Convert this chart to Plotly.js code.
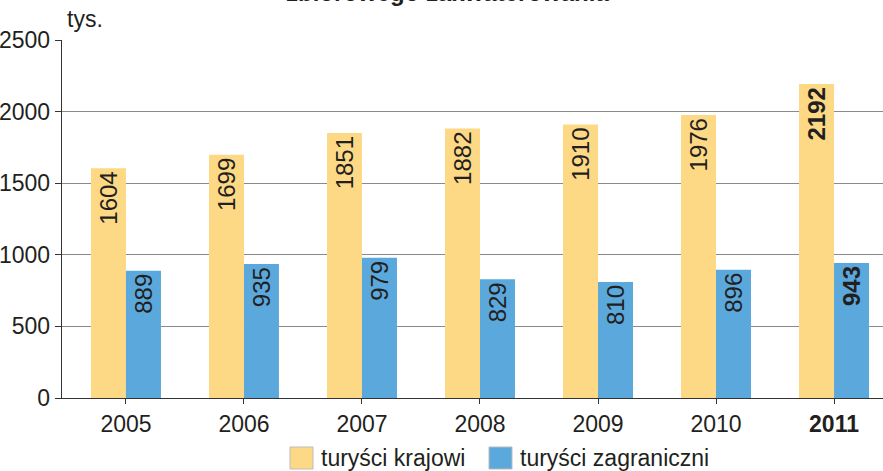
<!DOCTYPE html>
<html><head><meta charset="utf-8">
<script src="https://cdn.plot.ly/plotly-3.0.1.min.js"></script>
<style>html,body{margin:0;padding:0;background:#fff}#c{width:883px;height:471px}</style>
</head><body><div id="c"></div>
<script>
var years = ['2005','2006','2007','2008','2009','2010','2011'];
var tickLabels = ['2005','2006','2007','2008','2009','2010','<b>2011</b>'];
var domestic = [1604,1699,1851,1882,1910,1976,2192];
var foreign = [889,935,979,829,810,896,943];
var seriesNames = ['turyści krajowi','turyści zagraniczni'];
var yTicks = [0,500,1000,1500,2000,2500];

var yellow = '#FDD986', blue = '#5AA8DC', txt = '#231F20';
var F = 'Liberation Sans, Arial, sans-serif';
function labels(arr){ return arr.map(function(v,i){ return i===arr.length-1 ? '<b>'+v+'</b>' : String(v); }); }
var xs = years.map(function(y,i){ return i; });
var common = {type:'bar', textposition:'inside', insidetextanchor:'end', textangle:-90,
  textfont:{family:F, size:24, color:txt}, hoverinfo:'none', showlegend:false, constraintext:'none'};
var t1 = Object.assign({}, common, {x:xs, y:domestic, text:labels(domestic), name:seriesNames[0], marker:{color:yellow}});
var t2 = Object.assign({}, common, {x:xs, y:foreign, text:labels(foreign), name:seriesNames[1], marker:{color:blue}});

var layout = {
  width:883, height:471,
  margin:{l:62, r:0, t:40, b:73},
  paper_bgcolor:'#fff', plot_bgcolor:'#fff',
  barmode:'group', bargap:0.407, bargroupgap:0,
  font:{family:F, color:txt, size:23},
  xaxis:{range:[-0.542,6.415], tickvals:xs, ticktext:tickLabels, showgrid:false,
    showline:true, linecolor:'#333', linewidth:1.3, ticks:'outside', tickson:'boundaries', ticklen:5, tickcolor:'#333',
    tickfont:{size:23, family:F, color:txt}, zeroline:false, fixedrange:true},
  yaxis:{range:[0,2500], tickvals:yTicks, showgrid:true, gridcolor:'#8a8a8a', gridwidth:1.2,
    showline:true, linecolor:'#333', linewidth:1.3, ticks:'outside', ticklen:6, tickcolor:'#333',
    tickfont:{size:23, family:F, color:txt}, zeroline:false, fixedrange:true, ticklabelstandoff:0},
  shapes:[
    {type:'rect', xref:'paper', yref:'paper', x0:(290-62)/821, x1:(313-62)/821, y0:-(447-398)/358, y1:-(469-398)/358, fillcolor:yellow, line:{color:'#bbb', width:1}},
    {type:'rect', xref:'paper', yref:'paper', x0:(489-62)/821, x1:(512-62)/821, y0:-(447-398)/358, y1:-(469-398)/358, fillcolor:blue, line:{color:'#bbb', width:1}}
  ],
  annotations:[
    {text:seriesNames[0], xref:'paper', yref:'paper', x:(319-62)/821, y:-(458-398)/358, xanchor:'left', yanchor:'middle', showarrow:false, font:{size:23, family:F, color:txt}},
    {text:seriesNames[1], xref:'paper', yref:'paper', x:(518-62)/821, y:-(458-398)/358, xanchor:'left', yanchor:'middle', showarrow:false, font:{size:23, family:F, color:txt}},
    {text:'tys.', xref:'paper', yref:'paper', x:(65-62)/821, y:1+(40-19)/358, xanchor:'left', yanchor:'middle', showarrow:false, font:{size:23, family:F, color:txt}},
    {text:'<b>zbiorowego zakwaterowania</b>', xref:'paper', yref:'paper', x:(447-62)/821, y:1+(40-8)/358, xanchor:'center', yanchor:'bottom', showarrow:false, font:{size:24, family:F, color:txt}}
  ]
};
Plotly.newPlot('c', [t1,t2], layout, {displayModeBar:false, staticPlot:true});
</script></body></html>
